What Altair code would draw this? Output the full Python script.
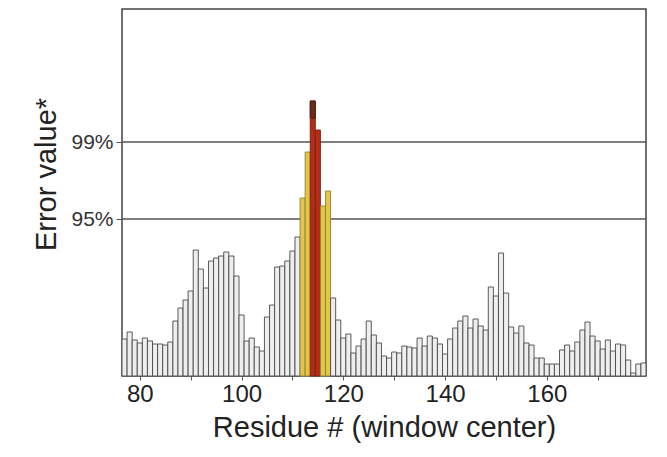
import altair as alt
import pandas as pd

# Residue numbers (window centers) and error values
residues = list(range(77, 180))
error_values = [
    3.7, 4.4, 3.6, 3.3, 3.8, 3.5, 3.2, 3.2, 3.1, 3.4,   # 77-86
    5.5, 6.8, 7.6, 8.5, 12.6, 10.7, 8.8, 11.5, 11.8, 12.0,  # 87-96
    12.4, 12.0, 10.0, 6.1, 3.5, 3.8, 2.9, 2.5, 5.9, 7.1,  # 97-106
    10.9, 11.0, 11.5, 12.5, 13.9, 17.8, 22.4, 27.5, 24.6, 17.0,  # 107-116
    18.5, 7.8, 5.6, 3.8, 4.2, 2.3, 3.0, 3.7, 5.5, 4.1,  # 117-126
    3.3, 2.0, 1.8, 2.4, 2.3, 3.0, 2.9, 2.8, 3.8, 3.0,  # 127-136
    4.0, 3.8, 3.2, 2.2, 3.7, 4.8, 5.5, 6.0, 4.8, 5.7,  # 137-146
    5.0, 4.6, 8.9, 8.0, 12.3, 8.3, 4.9, 4.3, 5.0, 3.3,  # 147-156
    3.1, 1.8, 1.8, 1.2, 1.2, 1.2, 2.6, 3.1, 2.5, 3.4,  # 157-166
    4.6, 5.4, 4.0, 3.5, 2.7, 3.6, 2.5, 3.2, 3.1, 1.6,  # 167-176
    0.3, 1.2, 1.3,                                     # 177-179
]

# Significance thresholds (same units as error values)
thr_labels = ["95%", "99%"]
thr_values = [15.7, 23.4]
thr_top = 25.8  # highest level: portion above drawn darker

x_ticks = list(range(80, 180, 10))

df = pd.DataFrame({"residue": residues, "err": error_values})
df["lo"] = df["residue"] - 0.5
df["hi"] = df["residue"] + 0.5
df["level"] = [
    "p99" if v >= thr_values[1] else ("p95" if v >= thr_values[0] else "ns")
    for v in error_values
]
top_df = df[df["err"] > thr_top].copy()
top_df["base"] = thr_top

thr_df = pd.DataFrame({"label": thr_labels, "y": thr_values})

FONT = "Liberation Sans"

xscale = alt.Scale(domain=[76.5, 179.5], nice=False, zero=False)
yscale = alt.Scale(domain=[0, 36.7], nice=False)

x_axis = alt.Axis(
    title="Residue # (window center)",
    values=x_ticks,
    labelExpr="datum.value % 20 == 0 ? datum.label : ''",
    grid=False, domain=False,
    tickSize=4, tickColor="#555", tickWidth=1,
    labelFont=FONT, labelFontSize=24, labelColor="#222", labelPadding=2,
    titleFont=FONT, titleFontSize=29, titleFontWeight="normal", titleColor="#222",
    titlePadding=7,
)
y_axis = alt.Axis(
    title="Error value*",
    values=thr_values,
    labelExpr="datum.value < 20 ? '95%' : '99%'",
    grid=False, domain=False,
    tickSize=6, tickColor="#555", tickWidth=1,
    labelFont=FONT, labelFontSize=21, labelColor="#333", labelPadding=3,
    titleFont=FONT, titleFontSize=29, titleFontWeight="normal", titleColor="#222",
    titleX=-67, titleY=165, titleBaseline="alphabetic", titleAngle=-90,
)

lines = alt.Chart(thr_df).mark_rule(color="#555", strokeWidth=1.5).encode(
    y=alt.Y("y:Q", scale=yscale, axis=y_axis),
)

bars = alt.Chart(df).mark_bar(strokeWidth=0.9).encode(
    x=alt.X("lo:Q", scale=xscale, axis=x_axis),
    x2="hi:Q",
    y=alt.Y("err:Q", scale=yscale),
    y2=alt.datum(0),
    fill=alt.Fill("level:N", scale=alt.Scale(domain=["ns", "p95", "p99"],
                                             range=["#eeeeee", "#e4c54c", "#b32c16"]),
                  legend=None),
    stroke=alt.Stroke("level:N", scale=alt.Scale(domain=["ns", "p95", "p99"],
                                                 range=["#4a4a4a", "#8a8530", "#7a2010"]),
                      legend=None),
)

tops = alt.Chart(top_df).mark_bar(fill="#6e2a1c", stroke="#4a1a10", strokeWidth=0.9).encode(
    x=alt.X("lo:Q", scale=xscale),
    x2="hi:Q",
    y=alt.Y("err:Q", scale=yscale),
    y2="base:Q",
)

chart = alt.layer(lines, bars, tops).properties(
    width=524, height=367,
    padding={"left": 114, "top": 1, "right": 5, "bottom": 70},
    autosize=alt.AutoSizeParams(type="none"),
    background="white",
).configure_view(stroke="#444", strokeWidth=1.5)

chart.save("out.html", embed_options={"renderer": "svg", "actions": False})
